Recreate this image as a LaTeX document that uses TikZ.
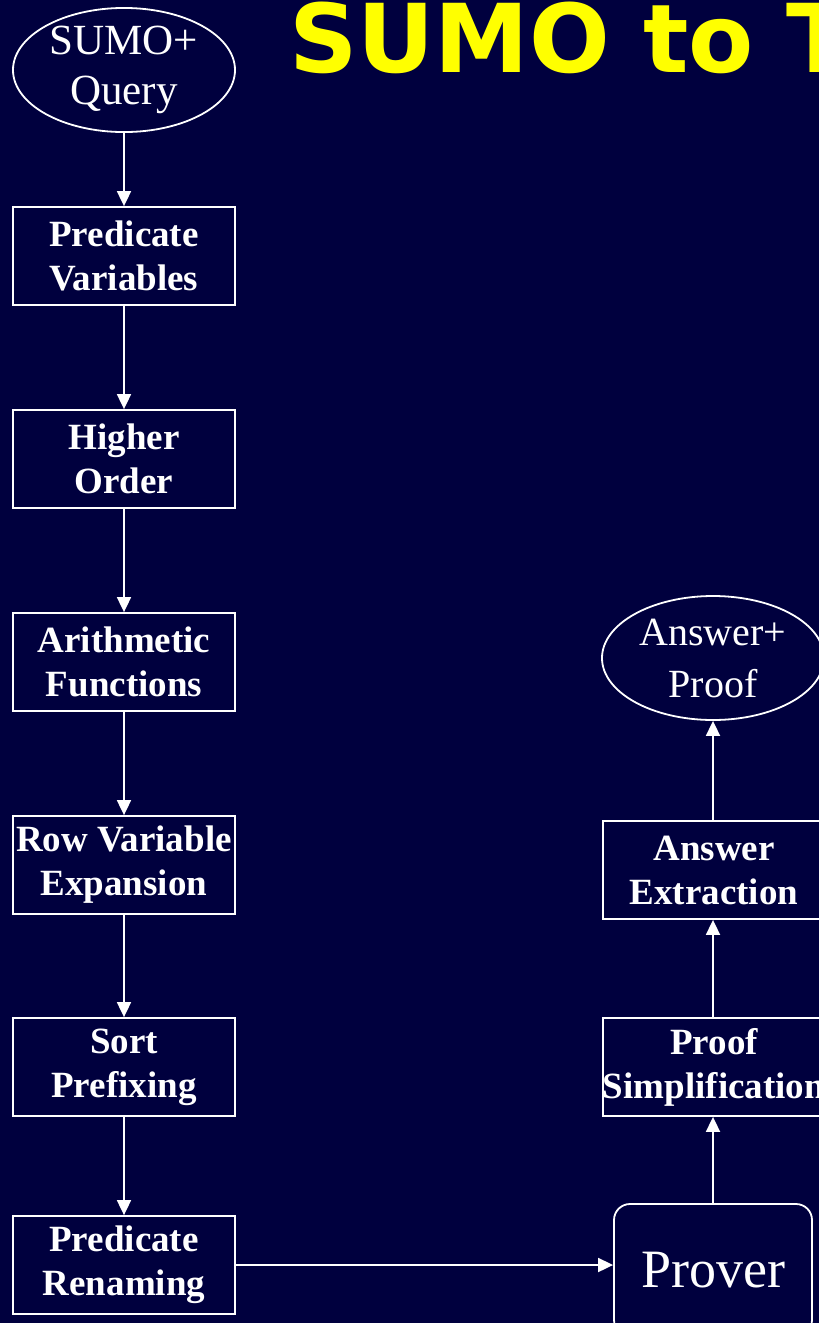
\documentclass[tikz,border=0pt]{standalone}
\usepackage{fontspec}
\setmainfont{Liberation Serif}
\newfontfamily\titlefont{DejaVu Sans}
\usetikzlibrary{shapes.geometric,arrows.meta,positioning}
\definecolor{slidebg}{RGB}{0,0,62}
\definecolor{titleyellow}{RGB}{255,255,0}

\begin{document}
\begin{tikzpicture}[x=1pt, y=-1pt,
    stepbox/.style={draw=white, line width=1.8pt, text=white, minimum width=222pt, minimum height=98pt, inner sep=0pt, align=center, font=\fontsize{37}{44}\selectfont\bfseries},
    endoval/.style={ellipse, draw=white, line width=1.8pt, text=white, minimum width=222pt, minimum height=124pt, inner sep=0pt, align=center},
    flow/.style={draw=white, line width=1.8pt, -{Triangle[width=14pt,length=15pt]}}]
        \fill[slidebg] (0,0) rectangle (819,1323);
        \useasboundingbox (0,0) rectangle (819,1323);
        % title
        \node[anchor=base west, inner sep=0pt, text=titleyellow, font=\titlefont\fontsize{95}{100}\selectfont\bfseries] (title) at (289,72) {SUMO to T};
        % left column
        \node[endoval, font=\fontsize{43}{50}\selectfont] (query) at (124,70) {SUMO+\\Query};
        \node[stepbox] (s0) at (124,256) {Predicate\\Variables};
        \node[stepbox] (s1) at (124,459) {Higher\\Order};
        \node[stepbox] (s2) at (124,662) {Arithmetic\\Functions};
        \node[stepbox] (s3) at (124,865) {Row Variable\\Expansion};
        \node[stepbox] (s4) at (124,1067) {Sort\\Prefixing};
        \node[stepbox] (s5) at (124,1265) {Predicate\\Renaming};
        % right column
        \node[draw=white, line width=1.8pt, rounded corners=16pt, text=white, minimum width=198pt, minimum height=132pt, inner sep=0pt, font=\fontsize{54}{60}\selectfont] (prover) at (713,1270) {Prover};
        \node[stepbox] (simp) at (714,1067) {Proof\\Simplification};
        \node[stepbox] (extr) at (714,870) {Answer\\Extraction};
        \node[endoval, font=\fontsize{40}{52}\selectfont] (answer) at (713,658) {Answer+\\Proof};
        \draw[flow] (query) -- (s0);
        \foreach \i in {0,1,2,3,4} {
            \pgfmathtruncatemacro{\j}{\i+1}
            \draw[flow] (s\i) -- (s\j);
        }
        \draw[flow] (s5.east) -- (prover.west |- s5.east);
        \draw[flow] (prover.north) -- (prover.north |- simp.south);
        \draw[flow] (simp.north -| prover.north) -- (prover.north |- extr.south);
        \draw[flow] (extr.north -| prover.north) -- (answer.south);
    \end{tikzpicture}
\end{document}
